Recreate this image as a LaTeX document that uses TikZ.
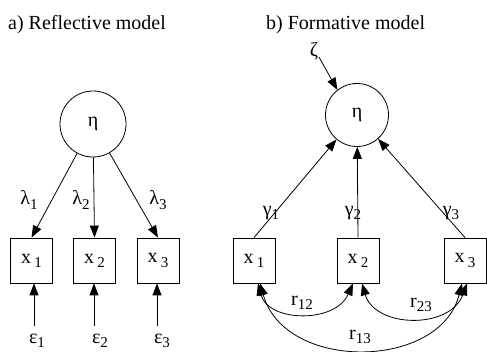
\documentclass[tikz,border=0pt]{standalone}
\usepackage{fontspec}
\setmainfont{Liberation Serif}
\newfontfamily\tms{Liberation Serif}
\usetikzlibrary{arrows.meta}
\newcommand\subx[1]{\raisebox{-0.45ex}{\fontsize{15}{15}\selectfont #1}}
\begin{document}
\begin{tikzpicture}[x=1pt,y=-1pt,
  every node/.style={font=\tms\fontsize{20}{23}\selectfont, inner sep=0pt},
  lat/.style={draw, circle, line width=0.8pt},
  obs/.style={draw, rectangle, minimum width=42pt, minimum height=45pt, line width=0.8pt},
  arr/.style={-{Triangle[length=12pt,width=9pt]}, line width=0.8pt},
  darr/.style={{Triangle[length=12pt,width=9pt]}-{Triangle[length=12pt,width=9pt]}, line width=0.8pt}]
\useasboundingbox[fill=white] (0,0) rectangle (487,352);
% ---- a) Reflective model
\node[anchor=west] (ta) at (8,25) {a) Reflective model};
\node[lat, minimum size=66pt] (eta1) at (93,124) {η};
\node[obs] (x1) at (31.5,260.5) {x\,\subx{1}};
\node[obs] (x2) at (94.5,260.5) {x\,\subx{2}};
\node[obs] (x3) at (158,260.5) {x\,\subx{3}};
\draw[arr] (eta1) -- (x1.north);
\draw[arr] (eta1) -- (x2.north);
\draw[arr] (eta1) -- (x3.north);
\node (l1) at (29,200) {λ\subx{1}};
\node (l2) at (81,200) {λ\subx{2}};
\node (l3) at (158,200) {λ\subx{3}};
\node (e1) at (37,341) {ε\subx{1}};
\node (e2) at (100,341) {ε\subx{2}};
\node (e3) at (162,341) {ε\subx{3}};
\coordinate (ce1) at (34,326);
\coordinate (ce2) at (94,326);
\coordinate (ce3) at (157,326);
\draw[arr] (ce1) -- (ce1 |- x1.south);
\draw[arr] (ce2) -- (ce2 |- x2.south);
\draw[arr] (ce3) -- (ce3 |- x3.south);
% ---- b) Formative model
\node[anchor=west] (tb) at (266,25) {b) Formative model};
\node[lat, minimum size=63pt] (eta2) at (357,115) {η};
\node (zeta) at (314,51) {ζ};
\coordinate (cz) at (319,57);
\draw[arr] (cz) -- (eta2.128);
\node[obs] (y1) at (254,260.5) {x\,\subx{1}};
\node[obs] (y2) at (358,260.5) {x\,\subx{2}};
\node[obs] (y3) at (465,260.5) {x\,\subx{3}};
\draw[arr] (y1.north) -- (eta2);
\draw[arr] (y2.north) -- (eta2);
\draw[arr] (y3.north) -- (eta2);
\node (g1) at (271,213) {γ\subx{1}};
\node (g2) at (353,213) {γ\subx{2}};
\node (g3) at (451,213) {γ\subx{3}};
\draw[darr] ([xshift=4pt]y1.south) .. controls (268,322) and (335,324) .. ([xshift=-5pt]y2.south);
\draw[darr] ([xshift=4pt]y2.south) .. controls (375,328) and (450,330) .. ([xshift=2pt]y3.south);
\draw[darr] ([xshift=6pt]y1.south) .. controls (285,372) and (440,370) .. ([xshift=-3pt]y3.south);
\node (r12) at (302,303) {r\subx{12}};
\node (r23) at (421,305) {r\subx{23}};
\node (r13) at (360,337) {r\subx{13}};
\end{tikzpicture}
\end{document}
